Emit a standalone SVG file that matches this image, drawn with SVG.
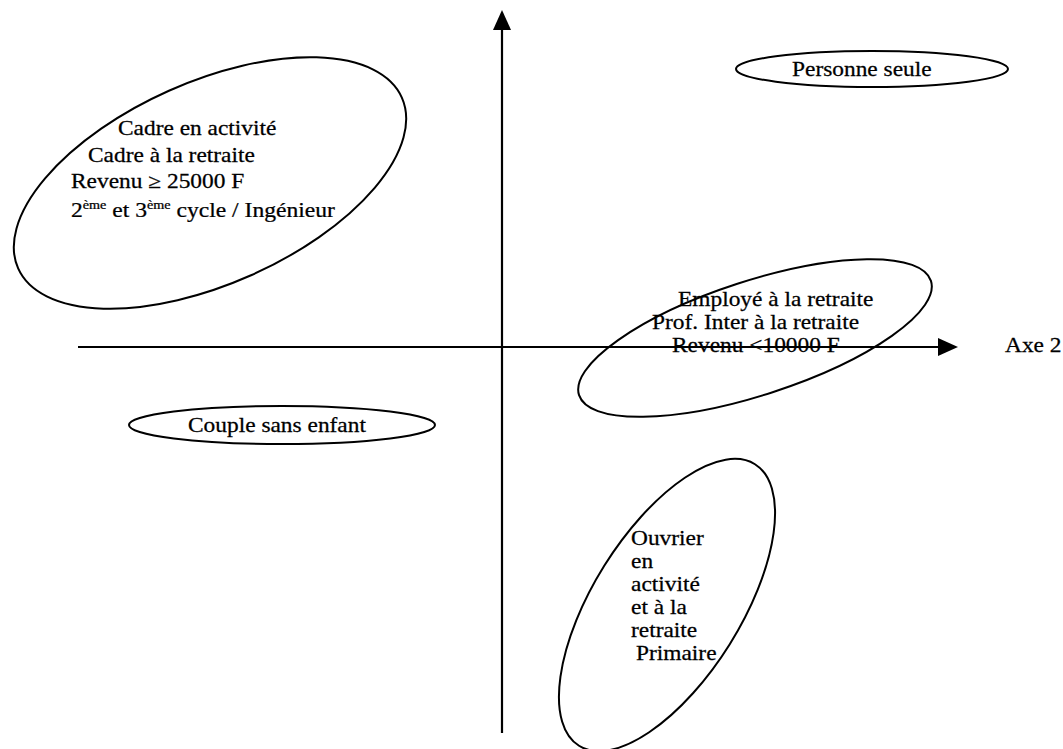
<svg xmlns="http://www.w3.org/2000/svg" width="1063" height="749" viewBox="0 0 1063 749">
<style>
.t{font-family:"Liberation Serif","Times New Roman",serif;font-size:20px;fill:#000;stroke:#000;stroke-width:0.25}
.sup{font-size:12px}
.e{fill:none;stroke:#000;stroke-width:2}
.ax{stroke:#000;stroke-width:2.2;fill:none}
</style>
<rect width="1063" height="749" fill="#fff"/>
<g id="axes">
<line class="ax" x1="502" y1="28" x2="502" y2="733"/>
<polygon points="502,10 493,30 511,30" fill="#000"/>
<line class="ax" x1="78" y1="347" x2="940" y2="347"/>
<polygon points="958,347 938,338 938,356" fill="#000"/>
<text class="t" transform="translate(1005,352) scale(1.17,1)">Axe 2</text>
</g>
<g id="cadre">
<ellipse class="e" cx="210" cy="183" rx="210" ry="101" transform="rotate(-24 210 183)"/>
<text class="t" transform="translate(118,135) scale(1.17,1)">Cadre en activité</text>
<text class="t" transform="translate(88,162) scale(1.17,1)">Cadre à la retraite</text>
<text class="t" transform="translate(71,188) scale(1.17,1)">Revenu ≥ 25000 F</text>
<text class="t" transform="translate(71,217) scale(1.18,1)">2<tspan class="sup" dy="-8">ème</tspan><tspan dy="8"> et 3</tspan><tspan class="sup" dy="-8">ème</tspan><tspan dy="8"> cycle / Ingénieur</tspan></text>
</g>
<g id="personne">
<ellipse class="e" cx="872" cy="69" rx="136" ry="18"/>
<text class="t" transform="translate(792,76) scale(1.17,1)">Personne seule</text>
</g>
<g id="employe">
<ellipse class="e" cx="755" cy="338" rx="185" ry="57" transform="rotate(-18 755 338)"/>
<text class="t" transform="translate(678,306) scale(1.17,1)">Employé à la retraite</text>
<text class="t" transform="translate(652,329) scale(1.17,1)">Prof. Inter à la retraite</text>
<text class="t" transform="translate(672,352) scale(1.17,1)">Revenu &lt;10000 F</text>
</g>
<g id="couple">
<ellipse class="e" cx="282" cy="425" rx="153" ry="19"/>
<text class="t" transform="translate(188,432) scale(1.17,1)">Couple sans enfant</text>
</g>
<g id="ouvrier">
<ellipse class="e" cx="667" cy="605" rx="166" ry="74" transform="rotate(-58 667 605)"/>
<text class="t" transform="translate(631,545) scale(1.17,1)">Ouvrier</text>
<text class="t" transform="translate(631,568) scale(1.17,1)">en</text>
<text class="t" transform="translate(631,591) scale(1.17,1)">activité</text>
<text class="t" transform="translate(631,614) scale(1.17,1)">et à la</text>
<text class="t" transform="translate(631,637) scale(1.17,1)">retraite</text>
<text class="t" transform="translate(636,660) scale(1.17,1)">Primaire</text>
</g>
</svg>
